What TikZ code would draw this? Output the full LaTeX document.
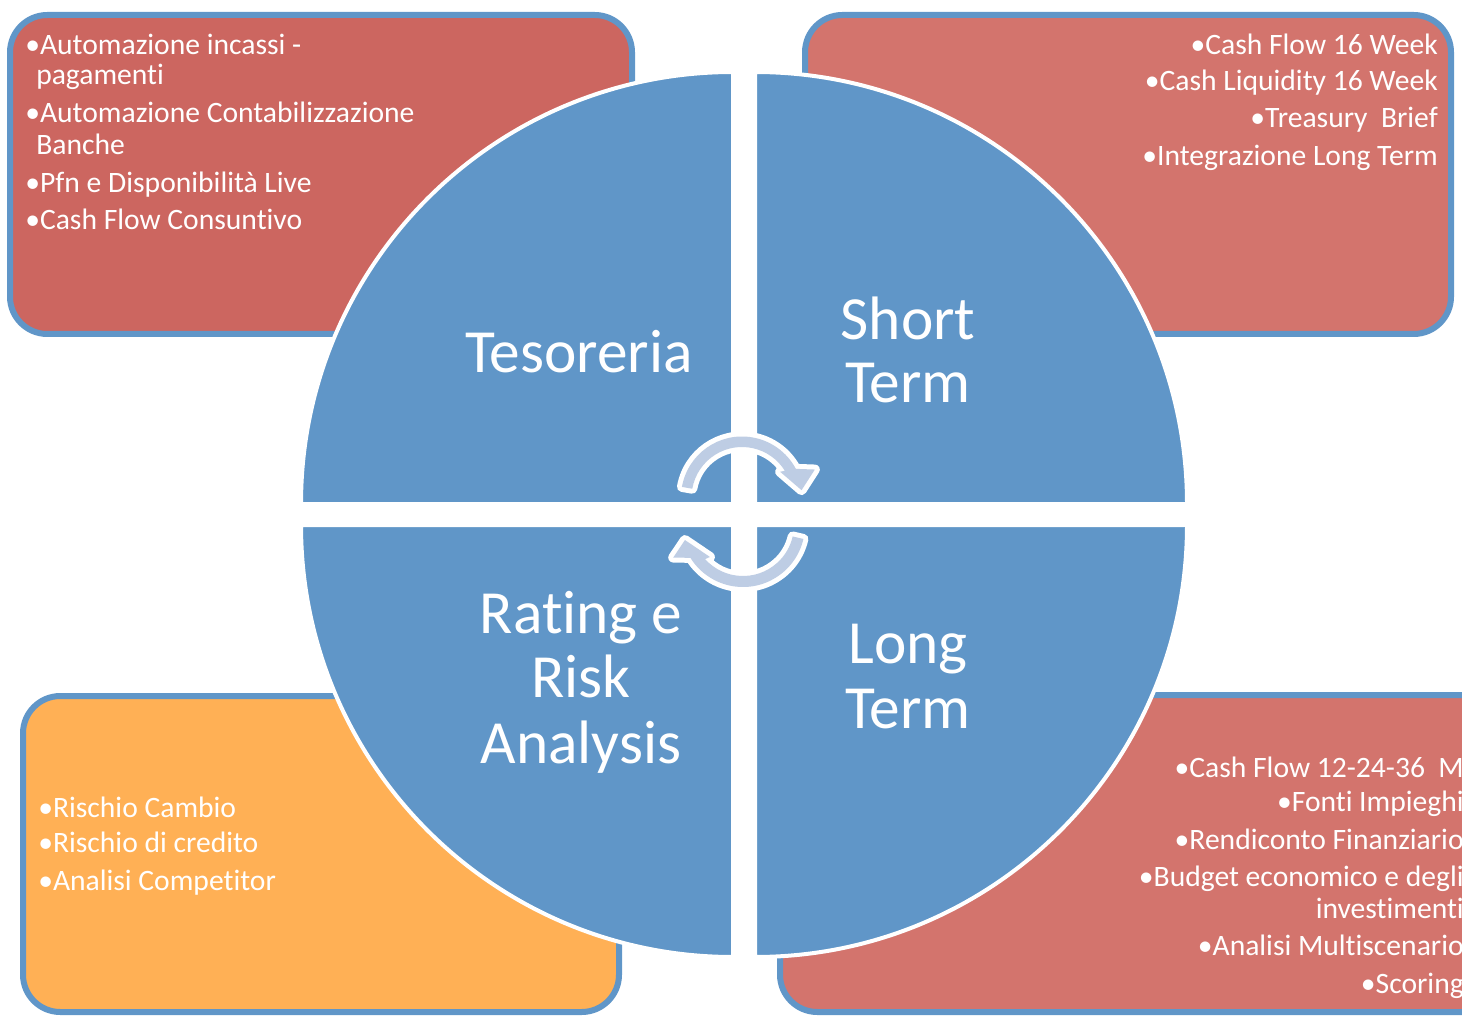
\documentclass[tikz,border=0pt]{standalone}
\usepackage{fontspec}
\setmainfont{Carlito}[Ligatures=NoCommon]
\definecolor{qblue}{HTML}{6096C8}
\definecolor{tlred}{HTML}{CC6660}
\definecolor{rred}{HTML}{D3746D}
\definecolor{orng}{HTML}{FFB055}
\definecolor{afill}{HTML}{BECDE4}
\begin{document}
\begin{tikzpicture}[x=0.75pt,y=0.75pt,
  box/.style={draw=qblue, line width=4.5pt, rounded corners=28pt},
  quad/.style={fill=qblue, draw=white, line width=3pt, line join=miter},
  lst/.style={text=white, font=\fontsize{22.2}{26}\selectfont, inner sep=0pt},
  big/.style={text=white, font=\fontsize{46}{50}\selectfont, inner sep=0pt, anchor=base},
  cyc/.style={fill=afill, preaction={draw=white, line width=7.5pt, line join=round}}]
\useasboundingbox (0,0) rectangle (1462,1015);
\clip (0,0) rectangle (1462,1015);
% boxes
\path[box, fill=tlred] (10,681) rectangle (632,1000);
\path[box, fill=rred] (805,681) rectangle (1451,1000);
\path[box, fill=orng] (23,3) rectangle (619,319);
\path[box, fill=rred] (780,3) rectangle (1500,320);
% quadrants
\path[quad] (733,511) -- (301,511) arc[start angle=180,end angle=90,radius=432] -- cycle;
\path[quad] (755,511) -- (755,943) arc[start angle=90,end angle=0,radius=432] -- cycle;
\path[quad] (733,490) -- (301,490) arc[start angle=180,end angle=270,radius=432] -- cycle;
\path[quad] (755,490) -- (1187,490) arc[start angle=0,end angle=-90,radius=432] -- cycle;
% circular arrows
\begin{scope}[shift={(742,517.5)}]
\path[cyc] (170:61) arc[start angle=170,end angle=28,radius=61] -- (21:78) -- (7:60) -- (34:46) -- (32:50.5) arc[start angle=32,end angle=170,radius=50.5] -- cycle;
\end{scope}
\begin{scope}[shift={(743,490)}]
\path[cyc] (-13:62) arc[start angle=-13,end angle=-148,radius=62] -- (-155:77) -- (-165.5:60) -- (-136:46) -- (-138:51) arc[start angle=-138,end angle=-13,radius=51] -- cycle;
\end{scope}
% big labels
\node[big] (tes) at (579,642) {Tesoreria};
\node[big] (st1) at (908,675) {Short};
\node[big] (st2) at (908,612) {Term};
\node[big] (ra1) at (581,382) {Rating e};
\node[big] (ra2) at (581,318) {Risk};
\node[big] (ra3) at (581,252) {Analysis};
\node[big] (lt1) at (908,352) {Long};
\node[big] (lt2) at (908,287) {Term};
% top-left list
\node[lst, anchor=base west] (tl1) at (25,960) {•Automazione incassi -};
\node[lst, anchor=base west] (tl2) at (36,930) {pagamenti};
\node[lst, anchor=base west] (tl3) at (25,892) {•Automazione Contabilizzazione};
\node[lst, anchor=base west] (tl4) at (36,860) {Banche};
\node[lst, anchor=base west] (tl5) at (25,822) {•Pfn e Disponibilità Live};
\node[lst, anchor=base west] (tl6) at (25,785) {•Cash Flow Consuntivo};
% top-right list
\node[lst, anchor=base east] (tr1) at (1438,960) {•Cash Flow 16 Week};
\node[lst, anchor=base east] (tr2) at (1438,924) {•Cash Liquidity 16 Week};
\node[lst, anchor=base east] (tr3) at (1438,887) {•Treasury\ \ Brief};
\node[lst, anchor=base east] (tr4) at (1438,849) {•Integrazione Long Term};
% bottom-left list
\node[lst, anchor=base west] (bl1) at (38,198) {•Rischio Cambio};
\node[lst, anchor=base west] (bl2) at (38,163) {•Rischio di credito};
\node[lst, anchor=base west] (bl3) at (38,125) {•Analisi Competitor};
% bottom-right list
\node[lst, anchor=base east] (br1) at (1464,238) {•Cash Flow 12-24-36\ \ M};
\node[lst, anchor=base east] (br2) at (1464,204) {•Fonti Impieghi};
\node[lst, anchor=base east] (br3) at (1464,166) {•Rendiconto Finanziario};
\node[lst, anchor=base east] (br4) at (1464,129) {•Budget economico e degli};
\node[lst, anchor=base east] (br5) at (1464,97) {investimenti};
\node[lst, anchor=base east] (br6) at (1464,60) {•Analisi Multiscenario};
\node[lst, anchor=base east] (br7) at (1464,22) {•Scoring};
\end{tikzpicture}
\end{document}
